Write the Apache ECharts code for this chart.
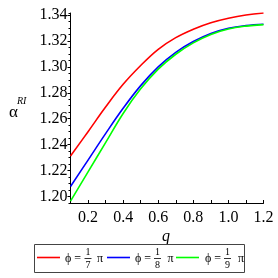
<!DOCTYPE html>
<html>
<head>
<meta charset="utf-8">
<script src="https://cdn.jsdelivr.net/npm/echarts@6/dist/echarts.min.js"></script>
<style>html,body{margin:0;padding:0;background:#fff}#c{width:278px;height:278px}</style>
</head>
<body>
<div id="c"></div>
<script>
var qValues = [0.1, 0.2, 0.3, 0.4, 0.5, 0.6, 0.7, 0.8, 0.9, 1.0, 1.1, 1.2];
var phi7 = [1.2312, 1.2500, 1.2690, 1.2865, 1.3010, 1.3135, 1.3225, 1.3290, 1.3340, 1.3375, 1.3400, 1.3415];
var phi8 = [1.2077, 1.2281, 1.2485, 1.2680, 1.2855, 1.3000, 1.3112, 1.3195, 1.3257, 1.3297, 1.3318, 1.3328];
var phi9 = [1.1965, 1.2190, 1.2415, 1.2640, 1.2830, 1.2982, 1.3097, 1.3185, 1.3250, 1.3292, 1.3314, 1.3325];
var seriesNames = ['ϕ = π/7', 'ϕ = π/8', 'ϕ = π/9'];
var seriesDen = ['7', '8', '9'];
var seriesColors = ['#ff0000', '#0000ff', '#00ff00'];
var xTickLabels = [0.2, 0.4, 0.6, 0.8, 1.0, 1.2];
var yTickLabels = [1.20, 1.22, 1.24, 1.26, 1.28, 1.30, 1.32, 1.34];

var chart = echarts.init(document.getElementById('c'), null, {renderer: 'canvas'});
var serif = '"Liberation Serif", "DejaVu Serif", serif';
function pairs(ys) { return qValues.map(function (q, i) { return [q, ys[i]]; }); }
var allSeries = [phi7, phi8, phi9];

var graphics = [];
graphics.push({type: 'text', left: 9, top: 104, style: {text: 'α', font: '17px ' + serif, fill: '#000'}});
graphics.push({type: 'text', left: 17, top: 96, style: {text: 'RI', font: 'italic 10px ' + serif, fill: '#000'}});
graphics.push({type: 'text', x: 166, y: 237, style: {text: 'q', font: 'italic 16px ' + serif, fill: '#000', align: 'center', verticalAlign: 'middle'}});
graphics.push({type: 'rect', shape: {x: 34.5, y: 244.5, width: 210, height: 28}, style: {fill: 'none', stroke: '#444', lineWidth: 1}});
var lx = [37, 107, 176];
var px = [65, 135, 205];
var fx = [88, 157.5, 227.5];
var pix = [97, 167.5, 238];
for (var i = 0; i < 3; i++) {
  graphics.push({type: 'line', shape: {x1: lx[i], y1: 257.5, x2: lx[i] + 23, y2: 257.5}, style: {stroke: seriesColors[i], lineWidth: 1.6}});
  graphics.push({type: 'text', x: px[i], y: 258.5, style: {text: 'ϕ =', font: '12px ' + serif, fill: '#000', verticalAlign: 'middle'}});
  graphics.push({type: 'text', x: fx[i], y: 252, style: {text: '1', font: '10px ' + serif, fill: '#000', align: 'center', verticalAlign: 'middle'}});
  graphics.push({type: 'line', shape: {x1: fx[i] - 3.5, y1: 258.5, x2: fx[i] + 3.5, y2: 258.5}, style: {stroke: '#000', lineWidth: 0.8}});
  graphics.push({type: 'text', x: fx[i], y: 265.5, style: {text: seriesDen[i], font: '10px ' + serif, fill: '#000', align: 'center', verticalAlign: 'middle'}});
  graphics.push({type: 'text', x: pix[i], y: 258.5, style: {text: 'π', font: '12px ' + serif, fill: '#000', verticalAlign: 'middle'}});
}

var option = {
  animation: false,
  backgroundColor: '#fff',
  grid: {left: 70.5, right: 14.5, top: 13, bottom: 75, containLabel: false, outerBoundsMode: 'none'},
  xAxis: {
    type: 'value', min: 0.1, max: 1.2, interval: 0.1,
    axisLine: {show: true, onZero: false, lineStyle: {color: '#000', width: 1}},
    axisTick: {show: true, inside: true, length: 3, lineStyle: {color: '#000'}},
    axisLabel: {
      show: true, margin: 7, color: '#000', fontFamily: serif, fontSize: 16,
      customValues: xTickLabels,
      formatter: function (v) { return v.toFixed(1); }
    },
    splitLine: {show: false}
  },
  yAxis: [{
    type: 'value', min: 1.195, max: 1.3415,
    axisLine: {show: true, onZero: false, lineStyle: {color: '#000', width: 1}},
    axisTick: {show: true, inside: false, length: 3, customValues: yTickLabels, lineStyle: {color: '#000'}},
    axisLabel: {
      show: true, margin: 3, color: '#000', fontFamily: serif, fontSize: 16,
      customValues: yTickLabels,
      formatter: function (v) { return v.toFixed(2); }
    },
    splitLine: {show: false}
  }, {
    type: 'value', min: 1.195, max: 1.3415, interval: 0.005, position: 'left',
    axisLine: {show: false},
    axisTick: {show: true, inside: false, length: 2, lineStyle: {color: '#000'}},
    axisLabel: {show: false},
    splitLine: {show: false}
  }],
  graphic: graphics,
  series: allSeries.map(function (ys, i) {
    return {
      name: seriesNames[i], type: 'line', data: pairs(ys), smooth: 0.4,
      showSymbol: false, symbol: 'none', clip: true,
      lineStyle: {color: seriesColors[i], width: 1.6},
      itemStyle: {color: seriesColors[i]},
      z: 2 + i
    };
  })
};
chart.setOption(option);
</script>
</body>
</html>
